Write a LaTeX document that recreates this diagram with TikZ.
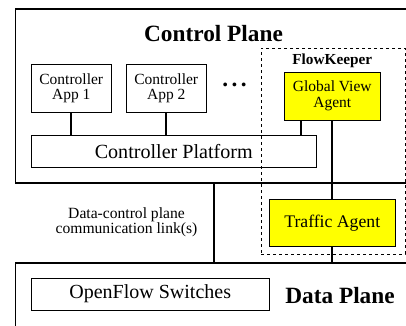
\documentclass[tikz,border=0pt]{standalone}
\usepackage{fontspec}
\setmainfont{Liberation Serif}
\definecolor{agentyellow}{RGB}{255,255,0}
\begin{document}
\begin{tikzpicture}[x=1pt,y=-1pt,
  plane/.style={draw, line width=1.3pt, rectangle, inner sep=0pt},
  box/.style={draw, line width=0.9pt, rectangle, inner sep=0pt, align=center, font=\fontsize{15.5}{15.5}\selectfont},
  agent/.style={box, fill=agentyellow},
  link/.style={line width=2pt},
  title/.style={font=\fontsize{23.3}{24}\selectfont\bfseries, inner sep=0pt}
]
\useasboundingbox (0,0) rectangle (406,325);
\clip (0,0) rectangle (406,325);
% planes
\node[plane, minimum width=414.5pt, minimum height=174pt] (cp) at (222.75,96) {};
\node[plane, minimum width=414.5pt, minimum height=77pt] (dp) at (222.75,301.5) {};
% FlowKeeper dashed
\node[draw, dashed, line width=0.8pt, minimum width=144pt, minimum height=206pt, inner sep=0pt] (fk) at (333,151) {};
% titles
\node[title] (cptitle) at (213.5,34) {Control Plane};
\node[title] (dptitle) at (340,295.5) {Data Plane};
\node[font=\fontsize{15.3}{16}\selectfont\bfseries, inner sep=0pt] (fklabel) at (332.3,61) {FlowKeeper};
% boxes
\node[box, minimum width=79.5pt, minimum height=47.5pt] (app1) at (71.25,88.25) {Controller\\App 1};
\node[box, minimum width=79.5pt, minimum height=47.5pt] (app2) at (166.25,88.25) {Controller\\App 2};
\node[inner sep=0pt, font=\fontsize{23.3}{24}\selectfont\bfseries] (dots) at (234.5,84.5) {.\hspace{3.4pt}.\hspace{3.4pt}.};
\node[agent, minimum width=95.5pt, minimum height=48pt] (gva) at (332.25,96) {Global View\\Agent};
\node[box, minimum width=284.5pt, minimum height=31.5pt, font=\fontsize{20.1}{21}\selectfont] (plat) at (173.75,151.25) {Controller Platform};
\node[agent, minimum width=126.5pt, minimum height=47.7pt, font=\fontsize{17.7}{18}\selectfont] (ta) at (332.25,222.85) {Traffic Agent};
\node[box, minimum width=237.5pt, minimum height=32pt, font=\fontsize{20}{21}\selectfont] (ofs) at (150.25,294) {OpenFlow Switches};
\node[align=center, inner sep=0pt, font=\fontsize{15.6}{15}\selectfont] (linklabel) at (126.5,222) {Data-control plane\\communication link(s)};
% connectors
\draw[link] (app1.south) -- (app1.south |- plat.north);
\draw[link] (app2.south) -- (app2.south |- plat.north);
\coordinate (gvaleg) at (300.5,0);
\draw[link] (gvaleg |- gva.south) -- (gvaleg |- plat.north);
\draw[link] (gva.south) -- (ta.north);
\draw[link] (ta.south) -- (ta.south |- dp.north);
\coordinate (linkx) at (213.5,0);
\draw[link] (linkx |- cp.south) -- (linkx |- dp.north);
\end{tikzpicture}
\end{document}
